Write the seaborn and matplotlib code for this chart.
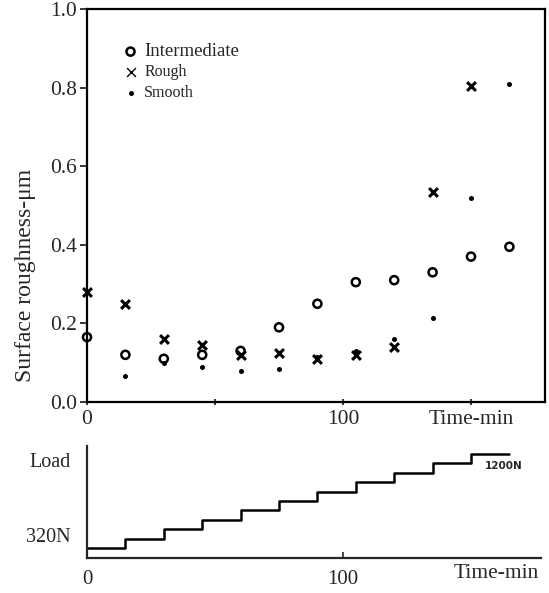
import numpy as np
import pandas as pd
import matplotlib
matplotlib.use("Agg")
import matplotlib.pyplot as plt
import seaborn as sns

# ---- data ----
t_inter = [0, 15, 30, 45, 60, 75, 90, 105, 120, 135, 150, 165]
y_inter = [0.165, 0.12, 0.11, 0.12, 0.13, 0.19, 0.25, 0.305, 0.31, 0.33, 0.37, 0.395]

t_rough = [0, 15, 30, 45, 60, 75, 90, 105, 120, 135, 150]
y_rough = [0.28, 0.25, 0.16, 0.145, 0.12, 0.125, 0.11, 0.12, 0.14, 0.535, 0.805]

t_smooth = [15, 30, 45, 60, 75, 90, 105, 120, 135, 150, 165]
y_smooth = [0.065, 0.10, 0.088, 0.078, 0.085, 0.115, 0.13, 0.16, 0.215, 0.52, 0.81]

t_load = [0, 15, 30, 45, 60, 75, 90, 105, 120, 135, 150, 165]
load_N = [320, 408, 496, 584, 672, 760, 848, 936, 1024, 1112, 1200, 1200]

yticks_top = [0.0, 0.2, 0.4, 0.6, 0.8, 1.0]
xticks = [0, 50, 100, 150]
xticklabels = ["0", "", "100", "Time-min"]

sns.set_theme(style="ticks")
plt.rcParams["font.family"] = ["Liberation Serif", "DejaVu Serif"]
plt.rcParams["axes.linewidth"] = 1.6

fig = plt.figure(figsize=(5.49, 5.93), dpi=100)
W, H = 549.0, 593.0
px = 2.56  # pixels per minute

# ---- top panel ----
ax = fig.add_axes([87 / W, 1 - 402 / H, (545 - 87) / W, (402 - 9) / H])
sns.scatterplot(x=t_inter, y=y_inter, ax=ax, marker="o", s=34,
                facecolor="none", edgecolor="black", linewidth=1.8,
                label="Intermediate", zorder=3, clip_on=False)
sns.scatterplot(x=t_rough, y=y_rough, ax=ax, marker="x", s=40,
                color="black", linewidth=2.2, label="Rough", zorder=3, clip_on=False)
sns.scatterplot(x=t_smooth, y=y_smooth, ax=ax, marker="o", s=13,
                color="black", edgecolor="black", linewidth=0,
                label="Smooth", zorder=3, clip_on=False)

ax.set_xlim(0, (545 - 87) / px)
ax.set_ylim(0, 1.0)
ax.set_yticks(yticks_top)
ax.set_yticklabels([f"{v:.1f}" for v in yticks_top])
ax.set_xticks(xticks)
ax.set_xticklabels(xticklabels)
ax.tick_params(axis="y", direction="out", length=5, width=1.3, labelsize=15.5, pad=2)
ax.tick_params(axis="x", direction="inout", length=5, width=1.3, labelsize=15.5, pad=3)
ax.set_ylabel("Surface roughness-μm", fontsize=17)
ax.yaxis.set_label_coords(-0.112, 0.323)
for s in ax.spines.values():
    s.set_visible(True)
    s.set_color("black")

leg = ax.legend(loc="upper left", bbox_to_anchor=(0.065, 0.93), frameon=False,
                handletextpad=0.4, labelspacing=0.3, borderaxespad=0.0,
                handlelength=1.0)
sizes = [13.5, 11.5, 11.5]
for txt, sz in zip(leg.get_texts(), sizes):
    txt.set_fontsize(sz)
for h in leg.legend_handles[1:2]:
    h.set_linewidth(1.0)

# ---- bottom panel ----
ylo, yhi = 226, 1275
bx = fig.add_axes([87 / W, 1 - 558 / H, (541 - 87) / W, (558 - 446) / H])
df_load = pd.DataFrame({"t": t_load, "load": load_N})
sns.lineplot(data=df_load, x="t", y="load", ax=bx, drawstyle="steps-post",
             color="black", linewidth=1.8)
bx.set_xlim(0, (541 - 87) / px)
bx.set_ylim(ylo, yhi)
bx.set_xticks([0, 100])
bx.set_xticklabels(["0", "100"])
bx.set_yticks([441, 1144])
bx.set_yticklabels(["320N", "Load"])
bx.tick_params(axis="y", length=0, labelsize=14.5, pad=12)
bx.tick_params(axis="x", direction="in", length=4, width=1.2, labelsize=15, pad=9)
bx.set_xlabel("")
bx.set_ylabel("")
sns.despine(ax=bx)
bx.text(155.5, 1130, "1200N", fontsize=7.5, fontweight="bold",
        family="DejaVu Sans", ha="left", va="top")
bx.text(160, ylo - 55, "Time-min", fontsize=15.5, ha="center", va="top",
        clip_on=False)

fig.savefig("out.png", dpi=100)
